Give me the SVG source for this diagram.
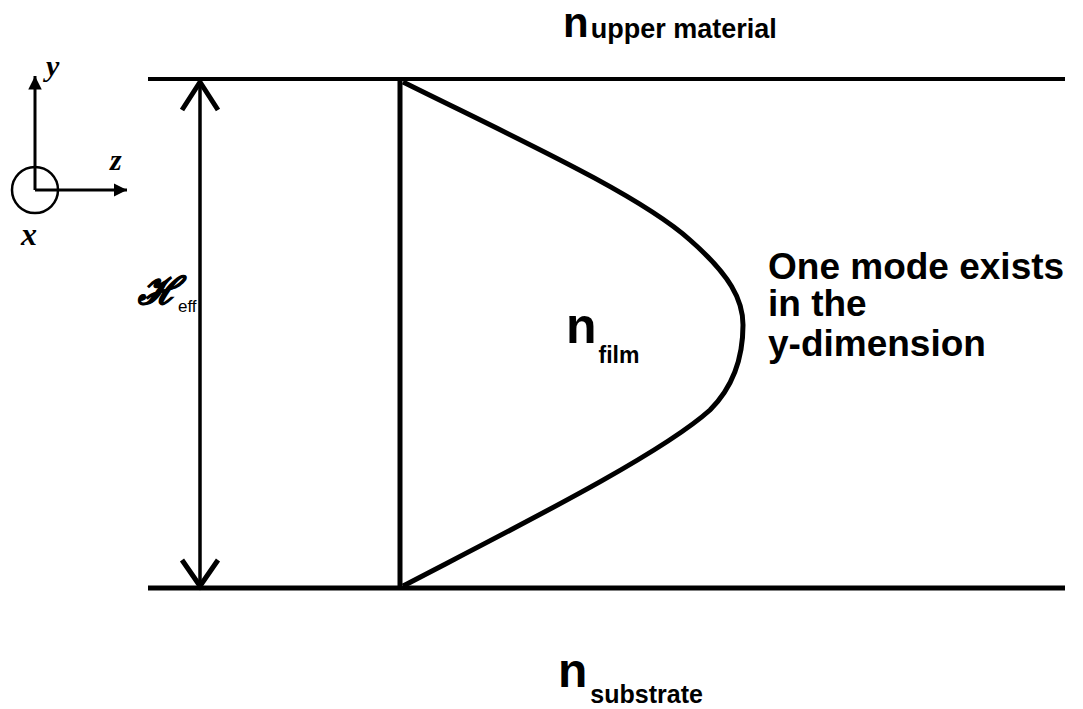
<svg xmlns="http://www.w3.org/2000/svg" width="1083" height="709" viewBox="0 0 1083 709">
<style>
.ln{stroke:#000;fill:none}
.b{font-family:"Liberation Sans",Arial,sans-serif;font-weight:bold;fill:#000}
.it{font-family:"Liberation Serif","DejaVu Serif",serif;font-style:italic;font-weight:bold;fill:#000}
</style>
<defs>
<marker id="tri" viewBox="0 0 10 10" refX="10" refY="5" markerWidth="4.5" markerHeight="4.5" orient="auto" markerUnits="strokeWidth">
<path d="M0,0 L10,5 L0,10 Z" fill="#000"/>
</marker>
</defs>
<rect width="1083" height="709" fill="#fff"/>
<g id="layers">
<line class="ln" x1="148" y1="79" x2="1065" y2="79" stroke-width="4"/>
<line class="ln" x1="148" y1="588" x2="1065" y2="588" stroke-width="5"/>
</g>
<g id="axes">
<circle cx="35" cy="190" r="23" class="ln" stroke-width="2.5"/>
<line class="ln" x1="35" y1="190" x2="35" y2="76" stroke-width="3" marker-end="url(#tri)"/>
<line class="ln" x1="35" y1="190" x2="127" y2="190" stroke-width="3" marker-end="url(#tri)"/>
<text class="it" x="46" y="76" font-size="30">y</text>
<text class="it" x="110" y="170" font-size="30">z</text>
<text class="it" x="21" y="245" font-size="32">x</text>
</g>
<g id="connectors">
<line class="ln" x1="200" y1="83" x2="200" y2="584" stroke-width="3.5"/>
<polyline class="ln" points="182,110 200,82 218,110" stroke-width="5"/>
<polyline class="ln" points="182,560 200,586 218,560" stroke-width="5"/>
</g>
<g id="film-edge">
<line class="ln" x1="400" y1="79" x2="400" y2="588" stroke-width="5"/>
</g>
<g id="mode-profile">
<path class="ln" stroke-width="5" stroke-linejoin="round" d="M403,82 C520,140 640,195 690,240 C730,275 743,300 743,325 C743,355 735,385 710,410 C660,455 520,525 403,586"/>
</g>
<g id="label-heff">
<text x="138" y="304" font-family="DejaVu Serif,serif" font-style="italic" font-weight="bold" font-size="38" fill="#000"><tspan stroke="#000" stroke-width="1">ℋ</tspan><tspan font-family="Liberation Sans,Arial,sans-serif" font-style="normal" font-weight="normal" font-size="17" dy="8">eff</tspan></text>
</g>
<g id="label-upper">
<text class="b" x="563" y="37" font-size="42">n<tspan font-size="27" dx="2" dy="1">upper material</tspan></text>
</g>
<g id="label-film">
<text class="b" x="566" y="343" font-size="50">n<tspan font-size="23" dx="2" dy="20">film</tspan></text>
</g>
<g id="label-substrate">
<text class="b" x="558" y="687" font-size="48">n<tspan font-size="25" dx="3" dy="16">substrate</tspan></text>
</g>
<g id="label-mode">
<text class="b" x="768" y="279" font-size="37">One mode exists</text>
<text class="b" x="768" y="316" font-size="37">in the</text>
<text class="b" x="768" y="356" font-size="37">y-dimension</text>
</g>
</svg>
